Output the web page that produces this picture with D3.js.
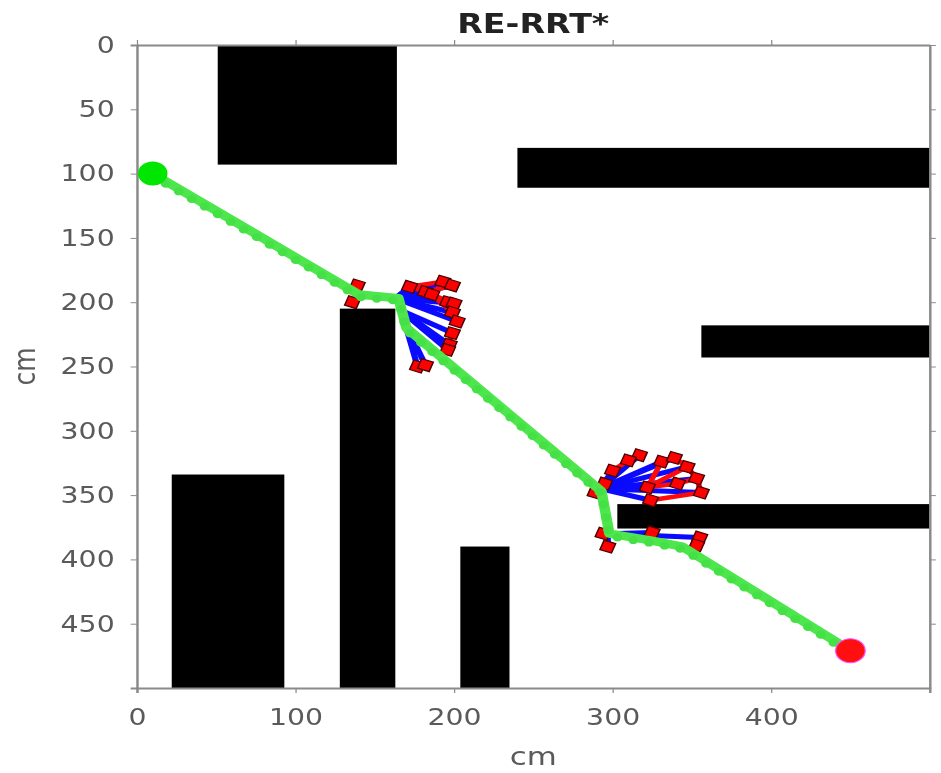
<!DOCTYPE html>
<html>
<head>
<meta charset="utf-8">
<script src="https://cdn.jsdelivr.net/npm/d3@7"></script>
<style>
  body { margin: 0; background: #fff; }
  svg { display: block; filter: blur(0.5px); }
  .axis text { font-family: "DejaVu Sans", sans-serif; fill: #5a5a5a; }
  .axis path, .axis line { stroke: #8a8a8a; }
</style>
</head>
<body>
<div class="chart"></div>
<script>
// obstacles [x0, y0, x1, y1] in cm
const obstacles = [
  [51, 0, 164, 93],
  [240, 80, 500, 111],
  [356, 218, 500, 243],
  [303, 357, 500, 376],
  [128, 205, 163, 500],
  [22, 334, 93, 500],
  [204, 390, 235, 500]
];
const start = [10, 100];
const goal = [450, 471];

// final path (cm)
const pathX = [10, 140, 165, 170, 293, 298, 323, 344, 450];
const pathY = [100, 194, 197, 220, 347, 380, 385, 390, 471];

// tree edges [x1, y1, x2, y2]
const blueEdges = [
  [140, 194, 139, 187], [140, 194, 136, 200],
  [163, 197, 172, 188], [163, 197, 182, 192], [163, 197, 186, 194],
  [163, 197, 193, 184], [163, 197, 196, 200], [163, 197, 200, 201],
  [163, 197, 199, 208], [163, 197, 202, 215], [163, 197, 199, 187],
  [166, 206, 197, 233], [166, 206, 196, 237], [166, 206, 199, 224],
  [169, 216, 177, 250], [169, 216, 182, 249],
  [292, 345, 317, 319], [292, 345, 310, 323], [292, 345, 300, 331],
  [292, 345, 295, 341], [292, 345, 331, 324], [292, 345, 322, 344],
  [292, 345, 341, 341], [292, 345, 353, 337], [292, 345, 356, 348],
  [292, 345, 324, 354], [292, 345, 347, 328], [292, 345, 339, 321],
  [297, 380, 325, 379], [297, 380, 355, 383], [297, 380, 297, 390]
];
const redEdges = [
  [172, 188, 193, 184], [193, 184, 199, 187], [182, 192, 196, 200],
  [186, 194, 200, 201], [186, 194, 199, 208], [199, 208, 202, 215],
  [172, 188, 182, 192], [182, 192, 199, 187],
  [197, 233, 196, 237], [177, 250, 182, 249], [199, 224, 197, 233],
  [322, 344, 331, 324], [331, 324, 339, 321], [339, 321, 347, 328],
  [347, 328, 353, 337], [353, 337, 356, 348], [322, 344, 341, 341],
  [341, 341, 353, 337], [324, 354, 356, 348], [310, 323, 317, 319],
  [322, 344, 347, 328], [300, 331, 310, 323],
  [355, 383, 353, 389]
];

// tree nodes (cm)
const nodeX = [139, 136, 172, 182, 186, 193, 199, 196, 200, 199, 202, 197, 196, 177, 182, 199,
               317, 310, 300, 295, 289, 331, 339, 347, 353, 356, 324, 322, 341,
               325, 355, 353, 297, 294];
const nodeY = [187, 200, 188, 192, 194, 184, 187, 200, 201, 208, 215, 233, 237, 250, 249, 224,
               319, 323, 331, 341, 348, 324, 321, 328, 337, 348, 354, 344, 341,
               379, 383, 389, 390, 380];

const xTicks = [0, 100, 200, 300, 400];
const yTicks = [0, 50, 100, 150, 200, 250, 300, 350, 400, 450];

const SX = 1.233;
const W = 941 / SX, H = 773;
const margin = ({top: 45, left: 111, size: 643});
const size = margin.size;

var svg = d3.select('.chart')
            .append('svg')
            .attr('width', 941)
            .attr('height', 773)
            .attr('viewBox', `0 0 ${W} ${H}`)
            .attr('preserveAspectRatio', 'none')
            .append('g')
            .attr('transform', `translate(${margin.left},${margin.top})`);

var x = d3.scaleLinear().domain([0, 500]).range([0, size]);
var y = d3.scaleLinear().domain([0, 500]).range([0, size]);

// obstacles
svg.selectAll('rect.obs')
   .data(obstacles)
   .enter()
   .append('rect')
   .attr('class', 'obs')
   .attr('x', d => x(d[0]))
   .attr('y', d => y(d[1]))
   .attr('width', d => x(d[2]) - x(d[0]))
   .attr('height', d => y(d[3]) - y(d[1]))
   .attr('fill', '#000');

// axes
svg.append('g')
   .attr('class', 'axis')
   .call(d3.axisLeft(y).tickValues(yTicks).tickSize(5).tickPadding(13))
   .call(g => g.selectAll('text').attr('font-size', 23));

svg.append('g')
   .attr('class', 'axis')
   .attr('transform', `translate(0,${size})`)
   .call(d3.axisBottom(x).tickValues(xTicks).tickSize(5).tickPadding(16))
   .call(g => g.selectAll('text').attr('font-size', 23));

svg.append('g')
   .attr('class', 'axis')
   .call(d3.axisTop(x).tickValues(xTicks).tickSize(5).tickSizeOuter(0).tickFormat(''));

svg.append('g')
   .attr('class', 'axis')
   .attr('transform', `translate(${size},0)`)
   .call(d3.axisRight(y).tickValues(yTicks).tickSize(5).tickSizeOuter(0).tickFormat(''));

svg.selectAll('.axis .domain').attr('stroke-width', 2);

// tree edges
svg.selectAll('line.blue')
   .data(blueEdges)
   .enter()
   .append('line')
   .attr('x1', d => x(d[0])).attr('y1', d => y(d[1]))
   .attr('x2', d => x(d[2])).attr('y2', d => y(d[3]))
   .attr('stroke', '#0a0aff')
   .attr('stroke-width', 5);

svg.selectAll('line.red')
   .data(redEdges)
   .enter()
   .append('line')
   .attr('x1', d => x(d[0])).attr('y1', d => y(d[1]))
   .attr('x2', d => x(d[2])).attr('y2', d => y(d[3]))
   .attr('stroke', '#ff0a0a')
   .attr('stroke-width', 4.5);

svg.selectAll('rect.node')
   .data(nodeX.map((v, i) => [v, nodeY[i]]))
   .enter()
   .append('rect')
   .attr('x', d => x(d[0]) - 5)
   .attr('y', d => y(d[1]) - 5)
   .attr('width', 10)
   .attr('height', 10)
   .attr('transform', d => `rotate(20,${x(d[0])},${y(d[1])})`)
   .attr('fill', '#ff0000')
   .attr('stroke', '#4a0000')
   .attr('stroke-width', 1.2);

// path
const pts = pathX.map((v, i) => [v, pathY[i]]);
const line = d3.line().x(d => x(d[0])).y(d => y(d[1]));

svg.append('path')
   .attr('d', line(pts))
   .attr('fill', 'none')
   .attr('stroke', '#4de64d')
   .attr('stroke-width', 8.5)
   .attr('stroke-linejoin', 'round');

svg.append('path')
   .attr('d', line(pts))
   .attr('transform', 'translate(0,2.5)')
   .attr('fill', 'none')
   .attr('stroke', '#45e045')
   .attr('stroke-width', 8)
   .attr('stroke-dasharray', '0 13')
   .attr('stroke-linecap', 'round');

// start / goal
svg.append('circle')
   .attr('cx', x(start[0])).attr('cy', y(start[1]))
   .attr('r', 12)
   .attr('fill', '#00e600');

svg.append('circle')
   .attr('cx', x(goal[0])).attr('cy', y(goal[1]))
   .attr('r', 12)
   .attr('fill', '#ff1010')
   .attr('stroke', '#ff50ff')
   .attr('stroke-width', 1);

// labels
svg.append('text')
   .attr('x', size / 2)
   .attr('y', 33 - margin.top)
   .attr('text-anchor', 'middle')
   .attr('font-family', '"DejaVu Sans", sans-serif')
   .attr('font-weight', 'bold')
   .attr('font-size', 27)
   .attr('fill', '#222')
   .text('RE-RRT*');

svg.append('text')
   .attr('x', size / 2)
   .attr('y', 765 - margin.top)
   .attr('text-anchor', 'middle')
   .attr('font-family', '"DejaVu Sans", sans-serif')
   .attr('font-size', 25)
   .attr('fill', '#5a5a5a')
   .text('cm');

svg.append('text')
   .attr('transform', `translate(${28 - margin.left},${size / 2}) rotate(-90)`)
   .attr('text-anchor', 'middle')
   .attr('font-family', '"DejaVu Sans", sans-serif')
   .attr('font-size', 25)
   .attr('fill', '#5a5a5a')
   .text('cm');
</script>
</body>
</html>
